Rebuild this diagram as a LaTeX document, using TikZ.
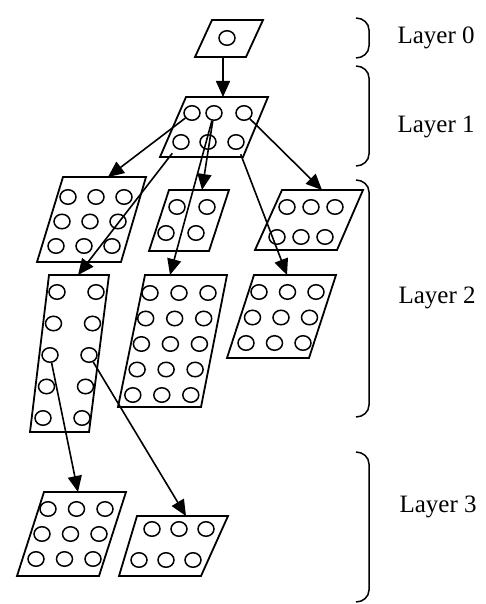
\documentclass[tikz,border=0pt]{standalone}
\usepackage{fontspec}
\setmainfont{Liberation Serif}
\usetikzlibrary{arrows.meta,shapes.geometric}
\tikzset{
  plate/.style={line width=1.8pt},
  dot/.style={ellipse,draw,line width=1.5pt,inner sep=0pt,minimum width=16pt,minimum height=14.5pt},
  arr/.style={line width=1.6pt,-{Triangle[length=16pt,width=14pt]}},
  brack/.style={line width=1.5pt},
  lbl/.style={anchor=west,font=\fontsize{25}{30}\selectfont}
}
\begin{document}
\begin{tikzpicture}[x=1pt,y=-1pt]
\useasboundingbox (0,0) rectangle (486,604);
% layer 0 and 1
\draw[plate] (212,20) -- (263,20) -- (246,57) -- (195,57) -- cycle;
\node[dot] (t) at (227,38) {};
\coordinate (t-out) at (223,57);
\draw[plate] (186,97) -- (268,97) -- (243,157) -- (160,157) -- cycle;
\coordinate (m-in) at (223,97);
\foreach \n/\x/\y in {11/192/113,12/214/113,13/244/113,21/181/142,22/208/142,23/236/142}
  \node[dot] (m\n) at (\x,\y) {};
% layer 2
\draw[plate] (63,177) -- (146,177) -- (121,262) -- (37,262) -- cycle;
\foreach \r in {0,1,2} \foreach \c in {0,1,2}
  \node[dot] (a\r\c) at ({68+28*\c-6*\r},{197+24.5*\r}) {};
\draw[plate] (169,190) -- (229,190) -- (209,251) -- (149,251) -- cycle;
\foreach \r in {0,1} \foreach \c in {0,1}
  \node[dot] (b\r\c) at ({177+30*\c-11*\r},{207+26*\r}) {};
\draw[plate] (282,190) -- (363,190) -- (337,250) -- (255,250) -- cycle;
\foreach \r in {0,1} \foreach \c in {0,1,2}
  \node[dot] (c\r\c) at ({287+24*\c-10*\r},{207+30*\r}) {};
\draw[plate] (49,275) -- (109,275) -- (89,432) -- (30,432) -- cycle;
\foreach \r in {0,...,4} \foreach \c in {0,1}
  \node[dot] (d\r\c) at ({57+39*\c-3.5*\r},{292+31.5*\r}) {};
\draw[plate] (145,275) -- (227,275) -- (201,407) -- (118,407) -- cycle;
\foreach \r in {0,...,4} \foreach \c in {0,1,2}
  \node[dot] (e\r\c) at ({150+29*\c-4.3*\r},{293+25.5*\r}) {};
\draw[plate] (254,275) -- (336,275) -- (309,358) -- (227,358) -- cycle;
\foreach \r in {0,1,2} \foreach \c in {0,1,2}
  \node[dot] (f\r\c) at ({259+28.5*\c-6.5*\r},{292+25.5*\r}) {};
% layer 3
\draw[plate] (44,492) -- (126,492) -- (99,576) -- (17,576) -- cycle;
\foreach \r in {0,1,2} \foreach \c in {0,1,2}
  \node[dot] (g\r\c) at ({48+28.5*\c-6*\r},{509+25*\r}) {};
\draw[plate] (137,516) -- (228,516) -- (201,576) -- (119,576) -- cycle;
\foreach \r in {0,1} \foreach \c in {0,1,2}
  \node[dot] (h\r\c) at ({152+27*\c-13*\r},{529+31*\r}) {};
\coordinate (a-in) at (108,177);
\coordinate (b-in) at (202,190);
\coordinate (c-in) at (322,190);
\coordinate (d-in) at (78,275);
\coordinate (e-in) at (170,275);
\coordinate (f-in) at (287,275);
\coordinate (g-in) at (78,492);
\coordinate (h-in) at (186,516);
% connections
\draw[arr] (t-out) -- (m-in);
\draw[arr] (m11) -- (a-in);
\draw[arr] (m12) -- (b-in);
\draw[arr] (m12) -- (e-in);
\draw[arr] (m13) -- (c-in);
\draw[arr,shorten <=6pt] (m21) -- (d-in);
\draw[arr,shorten <=5pt] (m23) -- (f-in);
\draw[arr] (d20) -- (g-in);
\draw[arr] (d21) -- (h-in);
% layers
\foreach \ya/\yb in {18/58,66/166,180/417,452/602}
  \draw[brack] (356,\ya) to[out=0,in=90] ({369},{\ya+12}) -- ({369},{\yb-12}) to[out=-90,in=0] (356,\yb);
\node[lbl] (lay0) at (394,38) {Layer 0};
\node[lbl] (lay1) at (394,127) {Layer 1};
\node[lbl] (lay2) at (395,298) {Layer 2};
\node[lbl] (lay3) at (396,507) {Layer 3};
\end{tikzpicture}
\end{document}
